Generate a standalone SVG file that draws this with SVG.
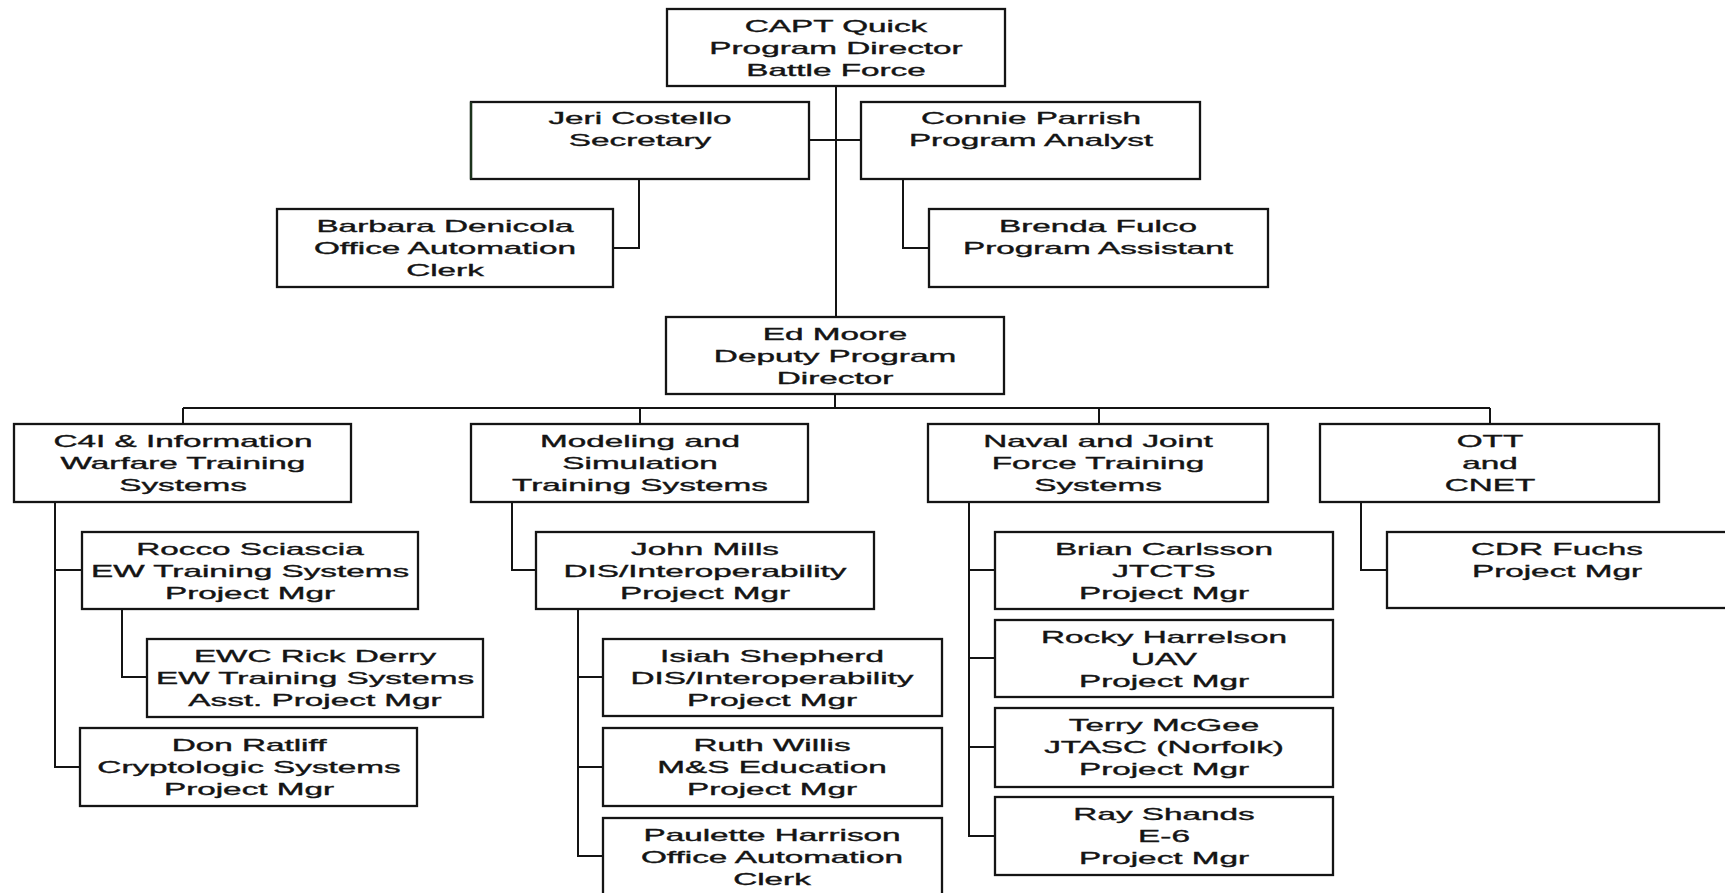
<svg xmlns="http://www.w3.org/2000/svg" width="1725" height="893" viewBox="0 0 1725 893">
<style>
.b{fill:#fff;stroke:#141414;stroke-width:2.3}
.c{fill:none;stroke:#141414;stroke-width:2}
.t{font-family:"Liberation Sans",Arial,sans-serif;font-size:16px;fill:#141414;stroke:#141414;stroke-width:0.35;text-anchor:middle}
</style>
<rect width="1725" height="893" fill="#fff"/>
<g id="connectors">
<path class="c" d="M836,86V317"/>
<path class="c" d="M809,140H861"/>
<path class="c" d="M639,180V248H613"/>
<path class="c" d="M903,180V248H929"/>
<path class="c" d="M835,394V408"/>
<path class="c" d="M183,408H1490"/>
<path class="c" d="M183,408V424M640,408V424M1099,408V424M1490,408V424"/>
<path class="c" d="M55,502V767H80M55,570H82"/>
<path class="c" d="M122,609V677H147"/>
<path class="c" d="M512,502V570H536"/>
<path class="c" d="M578,609V856H603M578,677H603M578,767H603"/>
<path class="c" d="M969,502V836H995M969,570H995M969,658H995M969,747H995"/>
<path class="c" d="M1361,502V570H1387"/>
</g>
<g id="capt"><rect class="b" x="667" y="9" width="338" height="77"/>
<text class="t" transform="translate(836,32) scale(2.08,1)"><tspan x="0">CAPT Quick</tspan><tspan x="0" dy="22">Program Director</tspan><tspan x="0" dy="22">Battle Force</tspan></text></g>
<g id="jeri"><rect class="b" x="471" y="102" width="338" height="77"/>
<path d="M471,102V179" stroke="#1c331c" stroke-width="2.3"/>
<text class="t" transform="translate(640,124) scale(2.08,1)"><tspan x="0">Jeri Costello</tspan><tspan x="0" dy="22">Secretary</tspan></text></g>
<g id="connie"><rect class="b" x="861" y="102" width="339" height="77"/>
<text class="t" transform="translate(1031,124) scale(2.08,1)"><tspan x="0">Connie Parrish</tspan><tspan x="0" dy="22">Program Analyst</tspan></text></g>
<g id="barbara"><rect class="b" x="277" y="209" width="336" height="78"/>
<text class="t" transform="translate(445,232) scale(2.08,1)"><tspan x="0">Barbara Denicola</tspan><tspan x="0" dy="22">Office Automation</tspan><tspan x="0" dy="22">Clerk</tspan></text></g>
<g id="brenda"><rect class="b" x="929" y="209" width="339" height="78"/>
<text class="t" transform="translate(1098,232) scale(2.08,1)"><tspan x="0">Brenda Fulco</tspan><tspan x="0" dy="22">Program Assistant</tspan></text></g>
<g id="edmoore"><rect class="b" x="666" y="317" width="338" height="77"/>
<text class="t" transform="translate(835,340) scale(2.08,1)"><tspan x="0">Ed Moore</tspan><tspan x="0" dy="22">Deputy Program</tspan><tspan x="0" dy="22">Director</tspan></text></g>
<g id="c4i"><rect class="b" x="14" y="424" width="337" height="78"/>
<text class="t" transform="translate(183,447) scale(2.08,1)"><tspan x="0">C4I &amp; Information</tspan><tspan x="0" dy="22">Warfare Training</tspan><tspan x="0" dy="22">Systems</tspan></text></g>
<g id="modeling"><rect class="b" x="471" y="424" width="337" height="78"/>
<text class="t" transform="translate(640,447) scale(2.08,1)"><tspan x="0">Modeling and</tspan><tspan x="0" dy="22">Simulation</tspan><tspan x="0" dy="22">Training Systems</tspan></text></g>
<g id="naval"><rect class="b" x="928" y="424" width="340" height="78"/>
<text class="t" transform="translate(1098,447) scale(2.08,1)"><tspan x="0">Naval and Joint</tspan><tspan x="0" dy="22">Force Training</tspan><tspan x="0" dy="22">Systems</tspan></text></g>
<g id="ott"><rect class="b" x="1320" y="424" width="339" height="78"/>
<text class="t" transform="translate(1490,447) scale(2.08,1)"><tspan x="0">OTT</tspan><tspan x="0" dy="22">and</tspan><tspan x="0" dy="22">CNET</tspan></text></g>
<g id="rocco"><rect class="b" x="82" y="532" width="336" height="77"/>
<text class="t" transform="translate(250,555) scale(2.08,1)"><tspan x="0">Rocco Sciascia</tspan><tspan x="0" dy="22">EW Training Systems</tspan><tspan x="0" dy="22">Project Mgr</tspan></text></g>
<g id="ewc"><rect class="b" x="147" y="639" width="336" height="78"/>
<text class="t" transform="translate(315,662) scale(2.08,1)"><tspan x="0">EWC Rick Derry</tspan><tspan x="0" dy="22">EW Training Systems</tspan><tspan x="0" dy="22">Asst. Project Mgr</tspan></text></g>
<g id="don"><rect class="b" x="80" y="728" width="337" height="78"/>
<text class="t" transform="translate(249,751) scale(2.08,1)"><tspan x="0">Don Ratliff</tspan><tspan x="0" dy="22">Cryptologic Systems</tspan><tspan x="0" dy="22">Project Mgr</tspan></text></g>
<g id="john"><rect class="b" x="536" y="532" width="338" height="77"/>
<text class="t" transform="translate(705,555) scale(2.08,1)"><tspan x="0">John Mills</tspan><tspan x="0" dy="22">DIS/Interoperability</tspan><tspan x="0" dy="22">Project Mgr</tspan></text></g>
<g id="isiah"><rect class="b" x="603" y="639" width="339" height="77"/>
<text class="t" transform="translate(772,662) scale(2.08,1)"><tspan x="0">Isiah Shepherd</tspan><tspan x="0" dy="22">DIS/Interoperability</tspan><tspan x="0" dy="22">Project Mgr</tspan></text></g>
<g id="ruth"><rect class="b" x="603" y="728" width="339" height="78"/>
<text class="t" transform="translate(772,751) scale(2.08,1)"><tspan x="0">Ruth Willis</tspan><tspan x="0" dy="22">M&amp;S Education</tspan><tspan x="0" dy="22">Project Mgr</tspan></text></g>
<g id="paulette"><rect class="b" x="603" y="818" width="339" height="78"/>
<text class="t" transform="translate(772,841) scale(2.08,1)"><tspan x="0">Paulette Harrison</tspan><tspan x="0" dy="22">Office Automation</tspan><tspan x="0" dy="22">Clerk</tspan></text></g>
<g id="brian"><rect class="b" x="995" y="532" width="338" height="77"/>
<text class="t" transform="translate(1164,555) scale(2.08,1)"><tspan x="0">Brian Carlsson</tspan><tspan x="0" dy="22">JTCTS</tspan><tspan x="0" dy="22">Project Mgr</tspan></text></g>
<g id="rocky"><rect class="b" x="995" y="620" width="338" height="77"/>
<text class="t" transform="translate(1164,643) scale(2.08,1)"><tspan x="0">Rocky Harrelson</tspan><tspan x="0" dy="22">UAV</tspan><tspan x="0" dy="22">Project Mgr</tspan></text></g>
<g id="terry"><rect class="b" x="995" y="708" width="338" height="79"/>
<text class="t" transform="translate(1164,731) scale(2.08,1)"><tspan x="0">Terry McGee</tspan><tspan x="0" dy="22">JTASC (Norfolk)</tspan><tspan x="0" dy="22">Project Mgr</tspan></text></g>
<g id="ray"><rect class="b" x="995" y="797" width="338" height="78"/>
<text class="t" transform="translate(1164,820) scale(2.08,1)"><tspan x="0">Ray Shands</tspan><tspan x="0" dy="22">E-6</tspan><tspan x="0" dy="22">Project Mgr</tspan></text></g>
<g id="cdr"><rect class="b" x="1387" y="532" width="342" height="76"/>
<text class="t" transform="translate(1557,555) scale(2.08,1)"><tspan x="0">CDR Fuchs</tspan><tspan x="0" dy="22">Project Mgr</tspan></text></g>
</svg>
